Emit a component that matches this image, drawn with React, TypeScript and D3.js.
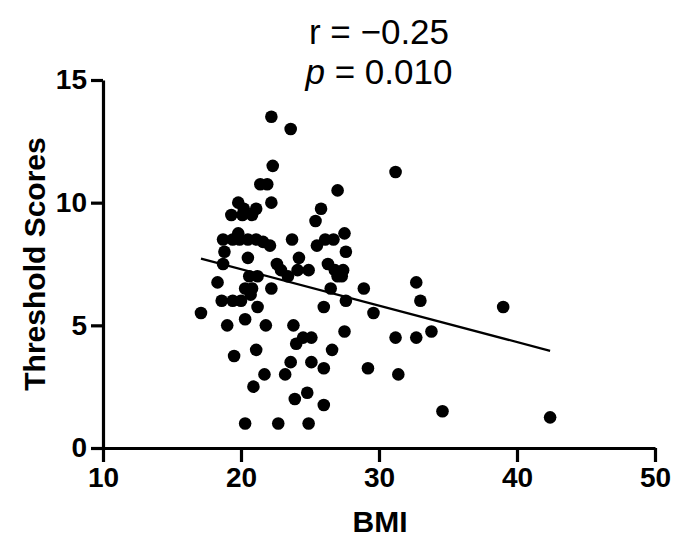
import React, { useRef, useEffect } from "react";
import * as d3 from "d3";

const width = 676;
const height = 554;

// BMI of each subject
const bmi = [
  17.1, 22.2, 23.6, 22.3, 21.4, 21.9, 22.2, 19.8, 19.3, 20.1,
  20.8, 20.2, 21.1, 27.0, 25.8, 25.4, 31.2, 19.8, 18.7, 19.4,
  19.9, 20.5, 21.1, 21.6, 22.1, 23.7, 27.5, 25.5, 26.1, 26.7,
  18.8, 20.5, 27.6, 24.2, 18.7, 22.6, 22.9, 26.3, 24.1, 24.9,
  26.8, 27.4, 27.0, 27.3, 20.6, 21.2, 23.4, 18.3, 20.3, 20.8,
  20.7, 22.2, 26.5, 28.9, 32.7, 18.6, 19.4, 20.0, 27.6, 33.0,
  21.2, 26.0, 29.6, 39.0, 20.3, 19.0, 21.8, 23.8, 24.5, 25.1,
  24.0, 27.5, 31.2, 32.7, 33.8, 19.5, 21.1, 26.6, 23.6, 25.1,
  26.0, 29.2, 21.7, 23.2, 31.4, 20.9, 24.8, 23.9, 26.0, 34.6,
  20.3, 22.7, 24.9, 42.4,
];

// threshold score of each subject
const scores = [
  5.5, 13.5, 13.0, 11.5, 10.75, 10.75, 10.0, 10.0, 9.5, 9.5,
  9.5, 9.75, 9.75, 10.5, 9.75, 9.25, 11.25, 8.75, 8.5, 8.5,
  8.5, 8.5, 8.5, 8.4, 8.25, 8.5, 8.75, 8.25, 8.5, 8.5,
  8.0, 7.75, 8.0, 7.75, 7.5, 7.5, 7.25, 7.5, 7.25, 7.25,
  7.25, 7.25, 7.0, 7.0, 7.0, 7.0, 7.0, 6.75, 6.5, 6.5,
  6.25, 6.5, 6.5, 6.5, 6.75, 6.0, 6.0, 6.0, 6.0, 6.0,
  5.75, 5.75, 5.5, 5.75, 5.25, 5.0, 5.0, 5.0, 4.5, 4.5,
  4.25, 4.75, 4.5, 4.5, 4.75, 3.75, 4.0, 4.0, 3.5, 3.5,
  3.25, 3.25, 3.0, 3.0, 3.0, 2.5, 2.25, 2.0, 1.75, 1.5,
  1.0, 1.0, 1.0, 1.25,
];

// fitted line, ends
const fitBmi = [17.1, 42.4];
const fitScore = [7.72, 3.96];

const xTicks = [10, 20, 30, 40, 50];
const yTicks = [0, 5, 10, 15];

const App: React.FC = () => {
  const svgRef = useRef<SVGSVGElement | null>(null);

  useEffect(() => {
    if (!svgRef.current) return;
    const svg = d3.select(svgRef.current);
    svg.selectAll("*").remove();

    const x = d3.scaleLinear().domain([10, 50]).range([103, 655]);
    const y = d3.scaleLinear().domain([0, 15]).range([448, 80]);

    const pts = bmi.map((b, i) => [b, scores[i]] as [number, number]);

    svg
      .append("g")
      .selectAll("circle")
      .data(pts)
      .enter()
      .append("circle")
      .attr("cx", (d) => x(d[0]))
      .attr("cy", (d) => y(d[1]))
      .attr("r", 6.3)
      .attr("fill", "#000");

    const line = d3
      .line<[number, number]>()
      .x((d) => x(d[0]))
      .y((d) => y(d[1]));

    svg
      .append("path")
      .datum(fitBmi.map((b, i) => [b, fitScore[i]] as [number, number]))
      .attr("fill", "none")
      .attr("stroke", "#000")
      .attr("stroke-width", 2.2)
      .attr("d", line);

    const xAxis = svg
      .append("g")
      .attr("transform", `translate(0,${y(0)})`)
      .call(
        d3.axisBottom(x).tickValues(xTicks).tickSize(14).tickSizeOuter(0).tickPadding(5)
      );

    const yAxis = svg
      .append("g")
      .attr("transform", `translate(${x(10)},0)`)
      .call(
        d3.axisLeft(y).tickValues(yTicks).tickSize(12).tickSizeOuter(0).tickPadding(4)
      );

    [xAxis, yAxis].forEach((g) => {
      g.select(".domain").attr("stroke", "#000").attr("stroke-width", 3.2);
      g.selectAll(".tick line").attr("stroke", "#000").attr("stroke-width", 3.2);
      g.selectAll(".tick text")
        .attr("fill", "#000")
        .style("font-family", "Liberation Sans, Arial, sans-serif")
        .style("font-weight", "bold")
        .style("font-size", "28px");
    });

    svg
      .append("text")
      .attr("x", 380)
      .attr("y", 532)
      .attr("text-anchor", "middle")
      .style("font-family", "Liberation Sans, Arial, sans-serif")
      .style("font-weight", "bold")
      .style("font-size", "30px")
      .text("BMI");

    svg
      .append("text")
      .attr("transform", `translate(45,${y(7.5)}) rotate(-90)`)
      .attr("text-anchor", "middle")
      .style("font-family", "Liberation Sans, Arial, sans-serif")
      .style("font-weight", "bold")
      .style("font-size", "30px")
      .text("Threshold Scores");

    const stat = svg
      .append("g")
      .style("font-family", "Liberation Sans, Arial, sans-serif")
      .style("font-size", "35px");

    stat
      .append("text")
      .attr("x", 379)
      .attr("y", 44)
      .attr("text-anchor", "middle")
      .text("r = \u22120.25");

    const p = stat
      .append("text")
      .attr("x", 379)
      .attr("y", 84)
      .attr("text-anchor", "middle");
    p.append("tspan").style("font-style", "italic").text("p");
    p.append("tspan").text(" = 0.010");
  }, []);

  return (
    <svg
      ref={svgRef}
      width={width}
      height={height}
      style={{ position: "absolute", left: 0, top: 0, background: "#fff" }}
    />
  );
};

export default App;
